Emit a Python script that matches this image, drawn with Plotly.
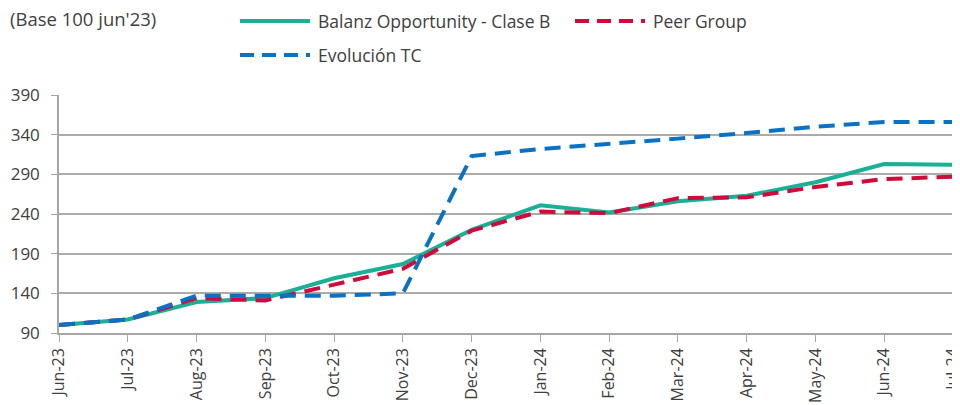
import plotly.graph_objects as go

months = ["Jun-23", "Jul-23", "Aug-23", "Sep-23", "Oct-23", "Nov-23", "Dec-23",
          "Jan-24", "Feb-24", "Mar-24", "Apr-24", "May-24", "Jun-24", "Jul-24"]
balanz = [100, 107, 129, 134, 159, 177, 220, 251, 242, 256, 263, 280, 303, 302]
peer = [100, 107, 134, 131, 151, 171, 219, 243, 241, 260, 261, 274, 284, 287]
tc = [100, 107, 137, 137, 137, 140, 313, 322, 328, 335, 342, 350, 356, 356]
y_ticks = [90, 140, 190, 240, 290, 340, 390]

TEAL = "#19B096"
RED = "#D20A3C"
BLUE = "#0A72C4"
FONT = "Open Sans"

# the page body has an 8px margin, so work in figure pixels = screen pixels - 8
OFF = 8
W, H = 960 - OFF, 405 - OFF
L, R, T, B = 59 - OFF, 953 - OFF, 95 - OFF, 333 - OFF

def px(p):
    return (p - OFF - L) / (R - L)

def py(p):
    return (B - (p - OFF)) / (B - T)

fig = go.Figure()
fig.add_trace(go.Scatter(x=months, y=balanz, mode="lines", name="Balanz Opportunity - Clase B",
                         line=dict(color=TEAL, width=4)))
fig.add_trace(go.Scatter(x=months, y=peer, mode="lines", name="Peer Group",
                         line=dict(color=RED, width=4, dash="16px,9px")))
fig.add_trace(go.Scatter(x=months, y=tc, mode="lines", name="Evolución TC",
                         line=dict(color=BLUE, width=4, dash="16px,9px")))

# legend drawn by hand to match the original layout (screen pixel positions)
legend_items = [
    ("Balanz Opportunity - Clase B", TEAL, "solid", 240, 21),
    ("Peer Group", RED, "dash", 575, 21),
    ("Evolución TC", BLUE, "dash", 240, 55),
]
for label, color, dash, x0, y0 in legend_items:
    fig.add_shape(type="line", xref="paper", yref="paper",
                  x0=px(x0), x1=px(x0 + 70), y0=py(y0), y1=py(y0),
                  line=dict(color=color, width=4, dash="14px,8px" if dash == "dash" else "solid"))
    fig.add_annotation(text=label, xref="paper", yref="paper", x=px(x0 + 76), y=py(y0),
                       xanchor="left", yanchor="middle", showarrow=False,
                       font=dict(family=FONT, size=17.5, color="#404040"))

fig.add_annotation(text="(Base 100 jun'23)", xref="paper", yref="paper", x=px(OFF), y=py(18),
                   xanchor="left", yanchor="middle", showarrow=False,
                   font=dict(family=FONT, size=18.5, color="#404040"))

fig.update_layout(
    width=W, height=H,
    margin=dict(l=L, r=W - R, t=T, b=H - B),
    paper_bgcolor="white", plot_bgcolor="white",
    showlegend=False,
    font=dict(family=FONT, color="#404040"),
)
fig.update_xaxes(
    type="category", range=[0, len(months) - 1], tickangle=-90,
    tickfont=dict(size=16, color="#404040"),
    showgrid=False, showline=True, linecolor="#A6A6A6", linewidth=1.5,
    ticks="outside", ticklen=7, tickcolor="#A6A6A6",
    automargin=False,
)
fig.update_yaxes(
    range=[90, 390], tickvals=y_ticks,
    tickfont=dict(size=17, color="#404040"),
    showgrid=True, gridcolor="#ABABAB", gridwidth=1.5,
    showline=True, linecolor="#A6A6A6", linewidth=1.5,
    ticks="outside", ticklen=6, tickcolor="#A6A6A6", ticklabelstandoff=8,
    zeroline=False, automargin=False,
)

fig.write_html("out.html")
